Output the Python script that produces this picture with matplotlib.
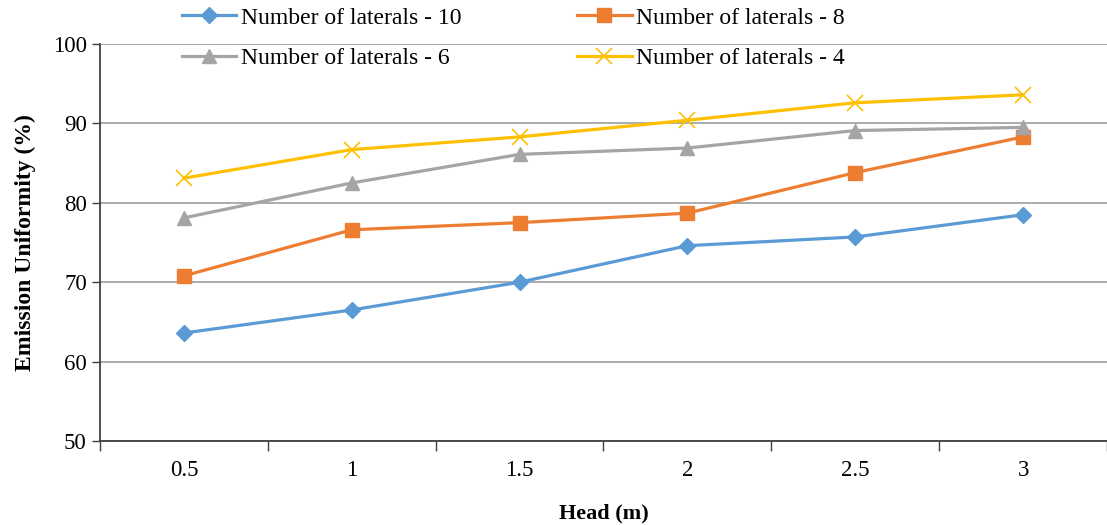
import matplotlib

matplotlib.use("Agg")
import matplotlib.pyplot as plt
import numpy as np

plt.rcParams["font.family"] = ["Liberation Serif", "DejaVu Serif"]

heads = ["0.5", "1", "1.5", "2", "2.5", "3"]
laterals_10 = [63.6, 66.5, 70.0, 74.6, 75.7, 78.5]
laterals_8 = [70.8, 76.6, 77.5, 78.7, 83.8, 88.3]
laterals_6 = [78.1, 82.5, 86.1, 86.9, 89.1, 89.5]
laterals_4 = [83.1, 86.7, 88.3, 90.4, 92.6, 93.6]

W, H = 1107, 525
fig = plt.figure(figsize=(W / 100, H / 100), dpi=100)
ax = fig.add_axes([100 / W, 1 - 441 / H, 1007 / W, 397 / H])

x = np.arange(len(heads))
h10, = ax.plot(x, laterals_10, color="#5B9BD5", lw=2.3, marker="D", ms=8, label="Number of laterals - 10")
h8, = ax.plot(x, laterals_8, color="#ED7D31", lw=2.3, marker="s", ms=10, label="Number of laterals - 8")
h6, = ax.plot(x, laterals_6, color="#A5A5A5", lw=2.3, marker="^", ms=10, label="Number of laterals - 6")
h4, = ax.plot(x, laterals_4, color="#FFC000", lw=2.3, marker="x", ms=11, mew=1.2, label="Number of laterals - 4")

ax.set_ylim(50, 100)
ax.set_yticks(np.arange(50, 101, 10))
ax.set_xlim(-0.5, 5.46)
ax.set_xticks(x)
ax.set_xticklabels(heads)
ax.set_xticks(np.arange(-0.5, 6, 1), minor=True)
ax.tick_params(axis="x", which="major", length=0, labelsize=16.5, pad=14)
ax.tick_params(axis="x", which="minor", length=7, width=1, color="#404040")
ax.tick_params(axis="y", length=6, width=1, color="#404040", labelsize=16.5)
ax.yaxis.grid(True, color="#A6A6A6", lw=1.3)
ax.set_axisbelow(True)
for side in ("top", "right"):
    ax.spines[side].set_visible(False)
ax.spines["left"].set_color("#404040")
ax.spines["bottom"].set_color("#404040")
ax.spines["left"].set_linewidth(1.3)
ax.spines["bottom"].set_linewidth(1.3)

ax.set_xlabel("Head (m)", fontsize=16, fontweight="bold", labelpad=16)
ax.set_ylabel("Emission Uniformity (%)", fontsize=17, fontweight="bold", labelpad=12)

fig.legend(
    handles=[h10, h6, h8, h4],
    ncol=2,
    loc="upper left",
    bbox_to_anchor=(182 / W, 1 - 7 / H),
    frameon=False,
    fontsize=17,
    borderpad=0,
    borderaxespad=0,
    handlelength=2.3,
    handletextpad=0.2,
    columnspacing=4.9,
    labelspacing=0.82,
)

fig.savefig("out.png", dpi=100)
